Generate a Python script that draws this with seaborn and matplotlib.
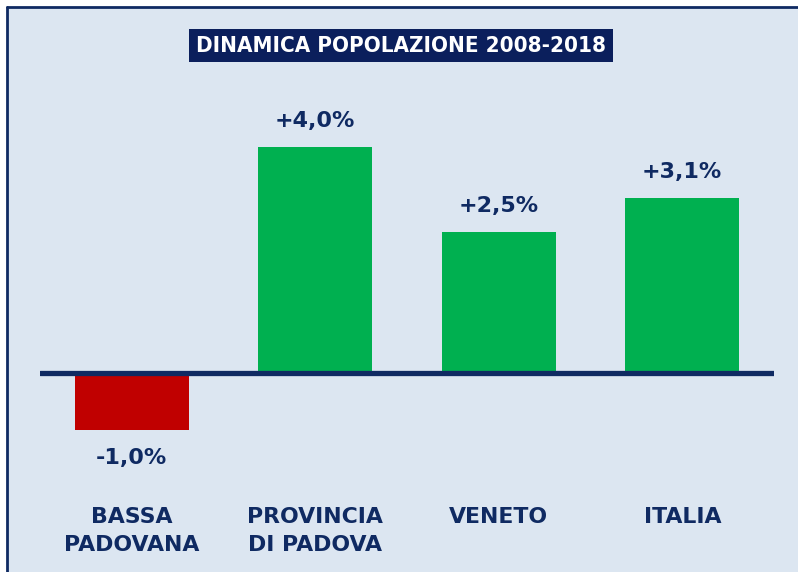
import matplotlib
matplotlib.use("Agg")
import matplotlib.pyplot as plt
import seaborn as sns
import pandas as pd
from matplotlib.patches import Rectangle

categories = ["BASSA\nPADOVANA", "PROVINCIA\nDI PADOVA", "VENETO", "ITALIA"]
values = [-1.0, 4.0, 2.5, 3.1]
labels = ["-1,0%", "+4,0%", "+2,5%", "+3,1%"]
colors = ["#c00000", "#00b050", "#00b050", "#00b050"]
title = "DINAMICA POPOLAZIONE 2008-2018"

NAVY = "#0f2a62"
BG = "#dce6f1"

sns.set_theme(style="white")
plt.rcParams["font.family"] = ["DejaVu Sans"]

W, H = 798, 572
fig = plt.figure(figsize=(W / 100, H / 100), dpi=100)
fig.patch.set_facecolor("white")

# panel background with border on top & left
fig.patches.append(Rectangle((7 / W, -0.01), 1.0, (H - 7) / H + 0.01,
                             transform=fig.transFigure, facecolor=BG,
                             edgecolor="none", zorder=-5))
fig.lines.append(plt.Line2D([7 / W, 1.0], [(H - 7) / H, (H - 7) / H],
                            transform=fig.transFigure, color=NAVY, lw=2, zorder=-4))
fig.lines.append(plt.Line2D([7 / W, 7 / W], [0, (H - 7) / H],
                            transform=fig.transFigure, color=NAVY, lw=2, zorder=-4))

ax_left, ax_right, ax_top, ax_bot = 40, 774, 60, 470
ax = fig.add_axes([ax_left / W, (H - ax_bot) / H,
                   (ax_right - ax_left) / W, (ax_bot - ax_top) / H])
ax.set_facecolor("none")
ax.set_zorder(2)

df = pd.DataFrame({"cat": categories, "val": values})
sns.barplot(data=df, x="cat", y="val", hue="cat", palette=colors,
            legend=False, width=0.62, ax=ax, saturation=1, zorder=2,
            linewidth=0)

ppu = 56.5
ax.set_xlim(-0.5, 3.5)
ax.set_ylim(-(ax_bot - 373) / ppu, (373 - ax_top) / ppu)
ax.axhline(0, color=NAVY, lw=3.8, zorder=3)

for i, (v, lab) in enumerate(zip(values, labels)):
    if v >= 0:
        ax.annotate(lab, (i, v), xytext=(0, 11.5), textcoords="offset points",
                    ha="center", va="bottom", fontsize=16, fontweight="bold",
                    color=NAVY)
    else:
        ax.annotate(lab, (i, v), xytext=(0, -13), textcoords="offset points",
                    ha="center", va="top", fontsize=16, fontweight="bold",
                    color=NAVY)

ax.set_xticks(range(len(categories)))
ax.set_xticklabels(categories, fontsize=15.8, fontweight="bold", color=NAVY,
                   linespacing=1.5)
ax.tick_params(axis="x", length=0, pad=26.5)
ax.set_yticks([])
ax.set_xlabel("")
ax.set_ylabel("")
for s in ax.spines.values():
    s.set_visible(False)

fig.text((190 + 612) / 2 / W, (H - 45.5) / H, title, ha="center", va="center",
         fontsize=16, color="white", fontweight="bold",
         family="DejaVu Sans", fontstretch="condensed",
         bbox=dict(boxstyle="square,pad=0.3", facecolor="#0b1f5c",
                   edgecolor="none"))

fig.savefig("out.png", dpi=100, facecolor=fig.get_facecolor())
